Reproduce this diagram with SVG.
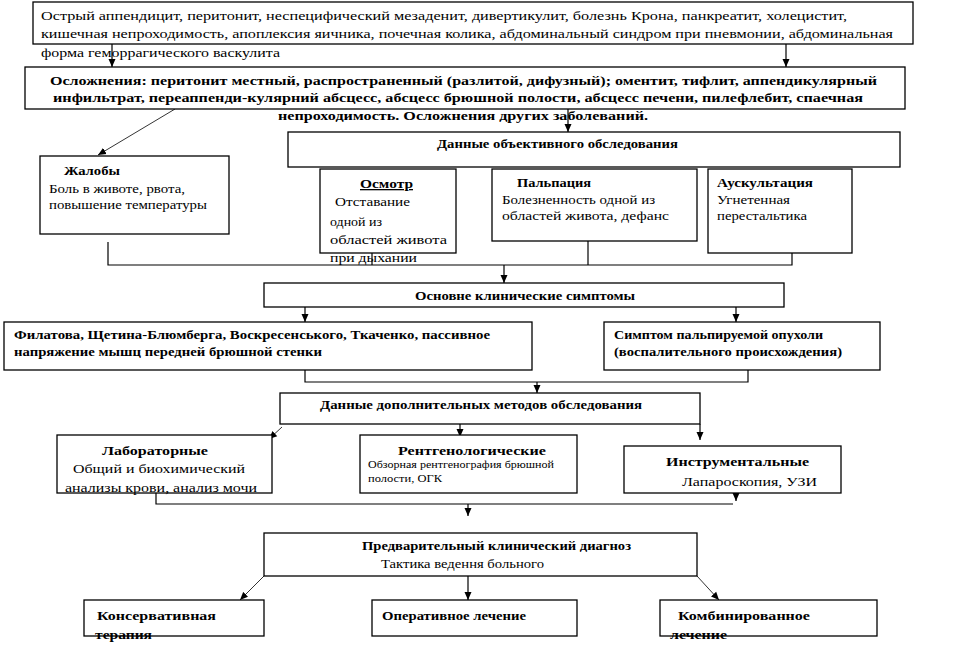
<svg xmlns="http://www.w3.org/2000/svg" width="961" height="664" viewBox="0 0 961 664" font-family="Liberation Serif, serif">
<style>
.b{fill:#fff;stroke:#000;stroke-width:1.3}
.t{font-family:'Liberation Serif',serif;font-size:13px;fill:#000}
.bd{font-weight:bold}
.sm{font-size:10px}
.c{fill:none;stroke:#000;stroke-width:1.2}
.d{fill:none;stroke:#000;stroke-width:0.8}
</style>
<defs>
<marker id="ah" viewBox="0 0 8 8" refX="8" refY="4" markerWidth="8" markerHeight="8" markerUnits="userSpaceOnUse" orient="auto">
<path d="M0,0.5 L8,4 L0,7.5 z" fill="#000"/>
</marker>
</defs>
<rect width="961" height="664" fill="#fff"/>
<g id="connectors">
<line class="c" x1="112" y1="44" x2="112" y2="67" marker-end="url(#ah)"/>
<line class="c" x1="786" y1="44" x2="786" y2="67" marker-end="url(#ah)"/>
<line class="c" x1="568" y1="109" x2="568" y2="132" marker-end="url(#ah)"/>
<line class="d" x1="175" y1="109" x2="98" y2="155" marker-end="url(#ah)"/>
<polyline class="c" points="108,242 108,265 792,265 792,253"/>
<line class="c" x1="372" y1="253" x2="372" y2="265"/>
<line class="c" x1="588" y1="241" x2="588" y2="265"/>
<line class="c" x1="504" y1="265" x2="504" y2="283" marker-end="url(#ah)"/>
<line class="c" x1="305" y1="307" x2="305" y2="322" marker-end="url(#ah)"/>
<line class="c" x1="736" y1="307" x2="736" y2="322" marker-end="url(#ah)"/>
<polyline class="c" points="305,370 305,382 748,382 748,370"/>
<line class="c" x1="537" y1="382" x2="537" y2="393" marker-end="url(#ah)"/>
<line class="d" x1="282" y1="427" x2="269" y2="439" marker-end="url(#ah)"/>
<line class="c" x1="460" y1="424" x2="460" y2="437" marker-end="url(#ah)"/>
<line class="c" x1="700" y1="424" x2="700" y2="440" marker-end="url(#ah)"/>
<polyline class="c" points="156,493 156,504 733,504"/>
<line class="c" x1="736" y1="493" x2="736" y2="501" marker-end="url(#ah)"/>
<line class="c" x1="468" y1="504" x2="468" y2="516" marker-end="url(#ah)"/>
<line class="d" x1="264" y1="576" x2="240" y2="600" marker-end="url(#ah)"/>
<line class="c" x1="468" y1="576" x2="468" y2="600" marker-end="url(#ah)"/>
<line class="d" x1="697" y1="576" x2="719" y2="600" marker-end="url(#ah)"/>
</g>
<g id="n-diseases">
<rect class="b" x="33" y="2" width="880" height="42"/>
<text class="t" x="41" y="20" textLength="806" lengthAdjust="spacingAndGlyphs">Острый аппендицит, перитонит, неспецифический мезаденит, дивертикулит, болезнь Крона, панкреатит, холецистит,</text>
<text class="t" x="41" y="38" textLength="852" lengthAdjust="spacingAndGlyphs">кишечная непроходимость, апоплексия яичника, почечная колика, абдоминальный синдром при пневмонии, абдоминальная</text>
<text class="t" x="41" y="57" textLength="239" lengthAdjust="spacingAndGlyphs">форма геморрагического васкулита</text>
</g>
<g id="n-complications">
<rect class="b" x="25" y="67" width="880" height="42"/>
<text class="t bd" x="50" y="85" textLength="827" lengthAdjust="spacingAndGlyphs">Осложнения: перитонит местный, распространенный (разлитой, дифузный); оментит, тифлит, аппендикулярный</text>
<text class="t bd" x="53" y="102" textLength="810" lengthAdjust="spacingAndGlyphs">инфильтрат,  переаппенди-кулярний абсцесс, абсцесс брюшной полости, абсцесс печени, пилефлебит,  спаечная</text>
<text class="t bd" x="278" y="120" textLength="370" lengthAdjust="spacingAndGlyphs">непроходимость. Осложнения других заболеваний.</text>
</g>
<g id="n-objective">
<rect class="b" x="288" y="132" width="612" height="35"/>
<text class="t bd" x="437" y="148" textLength="241" lengthAdjust="spacingAndGlyphs">Данные объективного обследования</text>
</g>
<g id="n-complaints">
<rect class="b" x="40" y="156" width="189" height="78"/>
<text class="t bd" x="64" y="175" textLength="56" lengthAdjust="spacingAndGlyphs">Жалобы</text>
<text class="t" x="49" y="193" textLength="136" lengthAdjust="spacingAndGlyphs">Боль в животе, рвота,</text>
<text class="t" x="49" y="209" textLength="158" lengthAdjust="spacingAndGlyphs">повышение температуры</text>
</g>
<g id="n-inspection">
<rect class="b" x="320" y="169" width="136" height="84"/>
<text class="t bd" x="360" y="188" textLength="53" lengthAdjust="spacingAndGlyphs" text-decoration="underline">Осмотр</text>
<text class="t" x="335" y="206" textLength="75" lengthAdjust="spacingAndGlyphs">Отставание</text>
<text class="t" x="330" y="226" textLength="52" lengthAdjust="spacingAndGlyphs">одной из</text>
<text class="t" x="330" y="244" textLength="117" lengthAdjust="spacingAndGlyphs">областей живота</text>
<text class="t" x="330" y="262" textLength="87" lengthAdjust="spacingAndGlyphs">при дыхании</text>
</g>
<g id="n-palpation">
<rect class="b" x="492" y="169" width="205" height="72"/>
<text class="t bd" x="517" y="187" textLength="74" lengthAdjust="spacingAndGlyphs">Пальпация</text>
<text class="t" x="502" y="204" textLength="153" lengthAdjust="spacingAndGlyphs">Болезненность одной из</text>
<text class="t" x="502" y="220" textLength="167" lengthAdjust="spacingAndGlyphs">областей живота, дефанс</text>
</g>
<g id="n-auscultation">
<rect class="b" x="708" y="169" width="144" height="84"/>
<text class="t bd" x="717" y="187" textLength="96" lengthAdjust="spacingAndGlyphs">Аускультация</text>
<text class="t" x="717" y="204" textLength="73" lengthAdjust="spacingAndGlyphs">Угнетенная</text>
<text class="t" x="717" y="220" textLength="90" lengthAdjust="spacingAndGlyphs">перестальтика</text>
</g>
<g id="n-main-symptoms">
<rect class="b" x="264" y="283" width="520" height="24"/>
<text class="t bd" x="415" y="300" textLength="220" lengthAdjust="spacingAndGlyphs">Основне клинические симптомы</text>
</g>
<g id="n-filatov">
<rect class="b" x="4" y="322" width="528" height="48"/>
<text class="t bd" x="14" y="339" textLength="476" lengthAdjust="spacingAndGlyphs">Филатова, Щетина-Блюмберга, Воскресенського, Ткаченко, пассивное</text>
<text class="t bd" x="14" y="356" textLength="308" lengthAdjust="spacingAndGlyphs">напряжение мышц передней брюшной стенки</text>
</g>
<g id="n-tumor">
<rect class="b" x="604" y="322" width="276" height="48"/>
<text class="t bd" x="614" y="339" textLength="209" lengthAdjust="spacingAndGlyphs">Симптом пальпируемой опухоли</text>
<text class="t bd" x="614" y="356" textLength="228" lengthAdjust="spacingAndGlyphs">(воспалительного происхождения)</text>
</g>
<g id="n-additional">
<rect class="b" x="280" y="393" width="420" height="31"/>
<text class="t bd" x="320" y="409" textLength="322" lengthAdjust="spacingAndGlyphs">Данные дополнительных методов обследования</text>
</g>
<g id="n-lab">
<rect class="b" x="57" y="435" width="215" height="58"/>
<text class="t bd" x="102" y="455" textLength="106" lengthAdjust="spacingAndGlyphs">Лабораторные</text>
<text class="t" x="73" y="473" textLength="172" lengthAdjust="spacingAndGlyphs">Общий и биохимический</text>
<text class="t" x="65" y="492" textLength="192" lengthAdjust="spacingAndGlyphs">анализы крови, анализ мочи</text>
</g>
<g id="n-xray">
<rect class="b" x="360" y="435" width="217" height="58"/>
<text class="t bd" x="398" y="455" textLength="148" lengthAdjust="spacingAndGlyphs">Рентгенологические</text>
<text class="t sm" x="368" y="468" textLength="186" lengthAdjust="spacingAndGlyphs">Обзорная рентгенография брюшной</text>
<text class="t sm" x="368" y="482" textLength="74" lengthAdjust="spacingAndGlyphs">полости, ОГК</text>
</g>
<g id="n-instrumental">
<rect class="b" x="624" y="446" width="217" height="47"/>
<text class="t bd" x="666" y="466" textLength="143" lengthAdjust="spacingAndGlyphs">Инструментальные</text>
<text class="t" x="682" y="486" textLength="135" lengthAdjust="spacingAndGlyphs">Лапароскопия, УЗИ</text>
</g>
<g id="n-diagnosis">
<rect class="b" x="264" y="533" width="433" height="43"/>
<text class="t bd" x="362" y="550" textLength="269" lengthAdjust="spacingAndGlyphs">Предварительный клинический диагноз</text>
<text class="t" x="381" y="568" textLength="163" lengthAdjust="spacingAndGlyphs">Тактика ведення больного</text>
</g>
<g id="n-conservative">
<rect class="b" x="84" y="600" width="180" height="36"/>
<text class="t bd" x="97" y="620" textLength="119" lengthAdjust="spacingAndGlyphs">Консервативная</text>
<text class="t bd" x="95" y="639" textLength="57" lengthAdjust="spacingAndGlyphs">терапия</text>
</g>
<g id="n-operative">
<rect class="b" x="372" y="600" width="205" height="36"/>
<text class="t bd" x="382" y="620" textLength="144" lengthAdjust="spacingAndGlyphs">Оперативное лечение</text>
</g>
<g id="n-combined">
<rect class="b" x="660" y="600" width="217" height="36"/>
<text class="t bd" x="678" y="620" textLength="132" lengthAdjust="spacingAndGlyphs">Комбинированное</text>
<text class="t bd" x="670" y="639" textLength="57" lengthAdjust="spacingAndGlyphs">лечение</text>
</g>
</svg>
